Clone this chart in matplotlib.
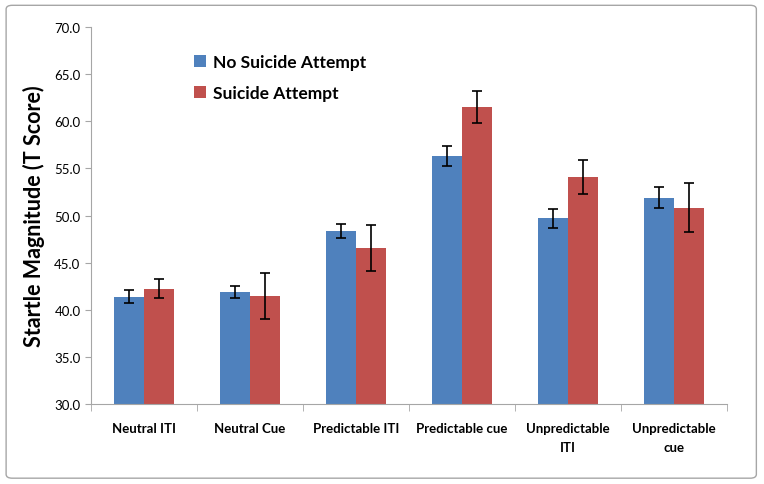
import matplotlib.pyplot as plt
import numpy as np
from matplotlib.patches import FancyBboxPatch

plt.rcParams["font.family"] = ["Lato", "DejaVu Sans"]

categories = [
    "Neutral ITI",
    "Neutral Cue",
    "Predictable ITI",
    "Predictable cue",
    "Unpredictable\nITI",
    "Unpredictable\ncue",
]
no_attempt = [41.4, 41.85, 48.35, 56.3, 49.7, 51.9]
no_attempt_err = [0.65, 0.65, 0.78, 1.05, 1.0, 1.1]
attempt = [42.25, 41.45, 46.6, 61.55, 54.1, 50.85]
attempt_err = [1.0, 2.4, 2.45, 1.72, 1.77, 2.6]

blue = "#4F81BD"
red = "#C0504D"

fig = plt.figure(figsize=(7.64, 4.85), dpi=100)
border = FancyBboxPatch(
    (0.008, 0.012), 0.982, 0.975,
    boxstyle="round,pad=0,rounding_size=0.008",
    transform=fig.transFigure, facecolor="white",
    edgecolor="#A6A6A6", linewidth=1.0, zorder=-1,
)
fig.patches.append(border)

ax = fig.add_axes([0.119, 0.165, 0.833, 0.777])

x = np.arange(len(categories))
w = 0.283
ax.bar(x - w / 2, no_attempt, w, color=blue, label="No Suicide Attempt",
       yerr=no_attempt_err, capsize=3.5, error_kw=dict(elinewidth=1.2, capthick=1.2, ecolor="black"))
ax.bar(x + w / 2, attempt, w, color=red, label="Suicide Attempt",
       yerr=attempt_err, capsize=3.5, error_kw=dict(elinewidth=1.2, capthick=1.2, ecolor="black"))

ax.set_ylim(30, 70)
ax.set_xlim(-0.5, len(categories) - 0.5)
ax.set_yticks(np.arange(30, 70.1, 5))
ax.set_yticklabels([f"{v:.1f}" for v in np.arange(30, 70.1, 5)], fontsize=9.5)
ax.set_xticks(x)
ax.set_xticklabels(categories, fontsize=9.5, fontweight="bold", linespacing=1.7, va="top")
ax.set_xticks(np.arange(-0.5, len(categories)), minor=True)
ax.tick_params(axis="x", which="major", length=0, pad=13)
ax.tick_params(axis="x", which="minor", length=5, color="#A6A6A6", direction="out")
ax.tick_params(axis="y", length=4, color="#A6A6A6", direction="out")

for s in ["top", "right"]:
    ax.spines[s].set_visible(False)
for s in ["left", "bottom"]:
    ax.spines[s].set_color("#A6A6A6")

ax.set_ylabel("Startle Magnitude (T Score)", fontsize=15.5, fontweight="bold", labelpad=7)

ax.legend(loc="upper left", bbox_to_anchor=(0.138, 0.97), frameon=False,
          prop=dict(size=12.5, weight="bold"), handlelength=0.65, handleheight=0.65,
          handletextpad=0.45, labelspacing=0.85)

fig.savefig("out.png", dpi=100)
